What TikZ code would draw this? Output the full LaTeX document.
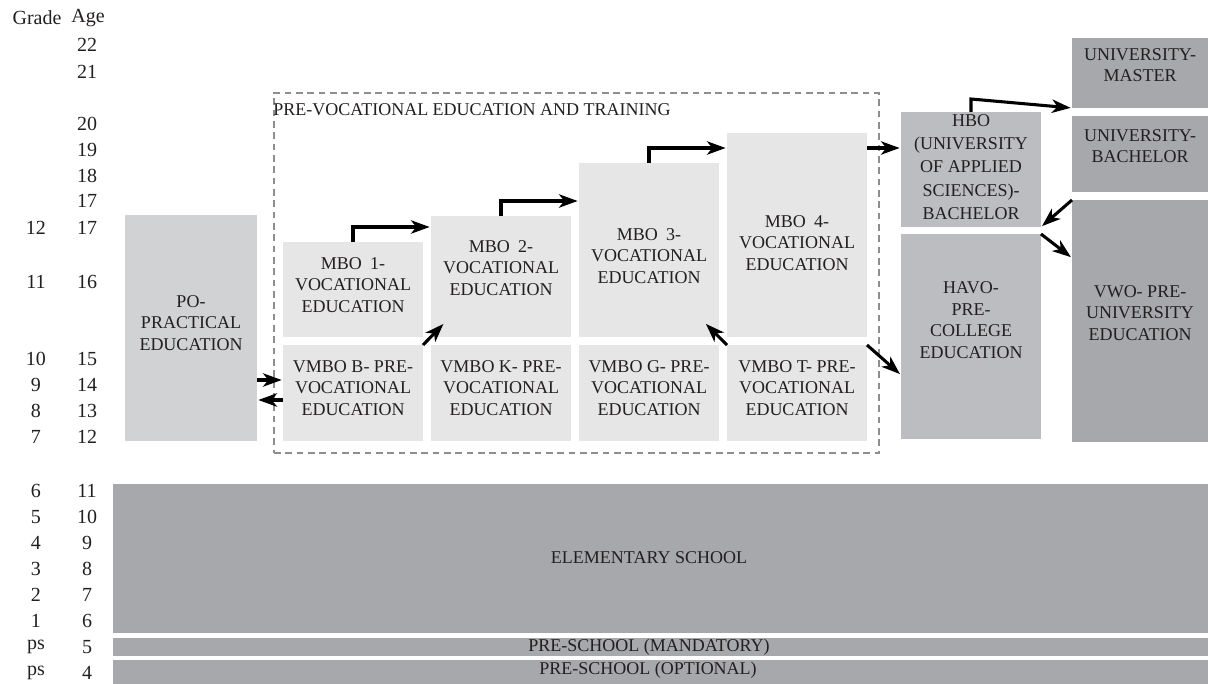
\documentclass[tikz,border=0pt]{standalone}
\usepackage{fontspec}
\setmainfont{LiberationSerif}[Extension=.ttf,UprightFont=*-Regular,BoldFont=*-Bold,ItalicFont=*-Italic,BoldItalicFont=*-BoldItalic]
\usetikzlibrary{arrows.meta,calc}
\definecolor{cmbo}{HTML}{E6E6E6}
\definecolor{cpo}{HTML}{D1D2D4}
\definecolor{chbo}{HTML}{BCBDC0}
\definecolor{cuni}{HTML}{A7A8AB}
\definecolor{frame}{HTML}{8E8E8E}
\definecolor{ink}{HTML}{231F20}
\tikzset{
  box/.style={draw=none, inner sep=0pt, outer sep=0pt},
  txt/.style={align=center, font=\fontsize{13.5}{16.1}\selectfont, inner sep=0pt, text=ink},
  lab/.style={font=\fontsize{15}{18}\selectfont, inner sep=0pt, text=ink},
  arr/.style={line width=2.3pt, draw=black, shorten >=1pt, -{Stealth[length=14pt,width=10pt,inset=4pt]}},
  pveframe/.style={draw=frame, line width=1.1pt, dash pattern=on 5pt off 3.5pt},
}
\newcommand{\eduBox}[6]{\node[box, fill=#6, minimum width={(#4-#2)*0.75pt}, minimum height={(#5-#3)*0.75pt}] (#1) at ({(#2+#4)/2},{(#3+#5)/2}) {};}
\begin{document}
\begin{tikzpicture}[x=0.75pt,y=-0.75pt]
\useasboundingbox (0,0) rectangle (1208,684);
% header labels
\node[lab] (hgrade) at (37,18) {Grade};
\node[lab] (hage) at (88,18) {Age};
% age labels
\foreach \a/\y [count=\i] in {22/45,21/72,20/124,19/150,18/176,17/201,17/228,16/282,15/359,14/385,13/411,12/437,11/491,10/517,9/543,8/569,7/595,6/621,5/647,4/673}
  \node[lab] (age\i) at (87,\y) {\a};
% grade labels
\foreach \g/\y [count=\i] in {12/228,11/282,10/359,9/385,8/411,7/437,6/491,5/517,4/543,3/569,2/595,1/621,ps/647,ps/673}
  \node[lab] (grade\i) at (36,\y) {\g};
% dashed frame
\node[pveframe, inner sep=0pt, minimum width={(879-274)*0.75pt}, minimum height={(453-93)*0.75pt}] (pve) at ({(274+879)/2},{(93+453)/2}) {};
\node[txt, anchor=west] (pvet) at (273,110) {PRE-VOCATIONAL EDUCATION AND TRAINING};
% boxes
\eduBox{po}{125}{215}{257}{441}{cpo}
\eduBox{mbo1}{283}{242}{423}{337}{cmbo}
\eduBox{mbo2}{431}{216}{571}{337}{cmbo}
\eduBox{mbo3}{579}{163}{719}{337}{cmbo}
\eduBox{mbo4}{727}{133}{867}{337}{cmbo}
\eduBox{vmbob}{283}{345}{423}{441}{cmbo}
\eduBox{vmbok}{431}{345}{571}{441}{cmbo}
\eduBox{vmbog}{579}{345}{719}{441}{cmbo}
\eduBox{vmbot}{727}{345}{867}{441}{cmbo}
\eduBox{hbo}{901}{112}{1041}{227}{chbo}
\eduBox{havo}{901}{234}{1041}{439}{chbo}
\eduBox{umaster}{1072}{38}{1208}{108}{cuni}
\eduBox{ubach}{1072}{116}{1208}{192}{cuni}
\eduBox{vwo}{1072}{200}{1208}{442}{cuni}
\eduBox{elem}{113}{484}{1208}{633}{cuni}
\eduBox{psm}{113}{638}{1208}{656}{cuni}
\eduBox{pso}{113}{660}{1208}{684}{cuni}
% texts
\node[txt] (po-t) at (191,323) {PO-\\PRACTICAL\\EDUCATION};
\node[txt] (mbo1-t) at (353,285) {MBO\hspace{0.45em}1-\\VOCATIONAL\\EDUCATION};
\node[txt] (mbo2-t) at (501,268) {MBO\hspace{0.45em}2-\\VOCATIONAL\\EDUCATION};
\node[txt] (mbo3-t) at (649,256) {MBO\hspace{0.45em}3-\\VOCATIONAL\\EDUCATION};
\node[txt] (mbo4-t) at (797,243) {MBO\hspace{0.45em}4-\\VOCATIONAL\\EDUCATION};
\node[txt] (vmbob-t) at (353,388) {VMBO B- PRE-\\VOCATIONAL\\EDUCATION};
\node[txt] (vmbok-t) at (501,388) {VMBO K- PRE-\\VOCATIONAL\\EDUCATION};
\node[txt] (vmbog-t) at (649,388) {VMBO G- PRE-\\VOCATIONAL\\EDUCATION};
\node[txt] (vmbot-t) at (797,388) {VMBO T- PRE-\\VOCATIONAL\\EDUCATION};
\node[txt, font=\fontsize{13.5}{17.5}\selectfont] (hbo-t) at (971,167) {HBO\\(UNIVERSITY\\OF APPLIED\\SCIENCES)-\\BACHELOR};
\node[txt] (havo-t) at (971,320) {HAVO-\\PRE-\\COLLEGE\\EDUCATION};
\node[txt] (umaster-t) at (1140,65) {UNIVERSITY-\\MASTER};
\node[txt] (ubach-t) at (1140,146) {UNIVERSITY-\\BACHELOR};
\node[txt] (vwo-t) at (1140,313) {VWO- PRE-\\UNIVERSITY\\EDUCATION};
\node[txt] (elem-t) at (649,558) {ELEMENTARY SCHOOL};
\node[txt] (psm-t) at (649,647) {PRE-SCHOOL (MANDATORY)};
\node[txt] (pso-t) at (648,670) {PRE-SCHOOL (OPTIONAL)};
% arrows
\draw[arr] (mbo1.north) |- (mbo2.west |- 0,227);
\draw[arr] (mbo2.north) |- (mbo3.west |- 0,201);
\draw[arr] (mbo3.north) |- (mbo4.west |- 0,148);
\draw[arr] (mbo4.east |- 0,148) -- (hbo.west |- 0,148);
\draw[arr] (hbo.north) -- ++(0,-13) -- (umaster.south west);
\draw[arr] (vwo.north west) -- (hbo.south east);
\draw[arr] (havo.north east) -- (vwo.west |- 0,258);
\draw[arr] (vmbot.north east) -- (havo.west |- 0,375);
\draw[arr] (vmbot.north west) -- ([xshift=-10.5pt,yshift=10.5pt]mbo3.south east);
\draw[arr] (vmbob.north east) -- ([xshift=10pt,yshift=10.5pt]mbo2.south west);
\draw[arr] (po.east |- 0,380) -- (vmbob.west |- 0,380);
\draw[arr] (vmbob.west |- 0,400) -- (po.east |- 0,400);
\end{tikzpicture}
\end{document}
